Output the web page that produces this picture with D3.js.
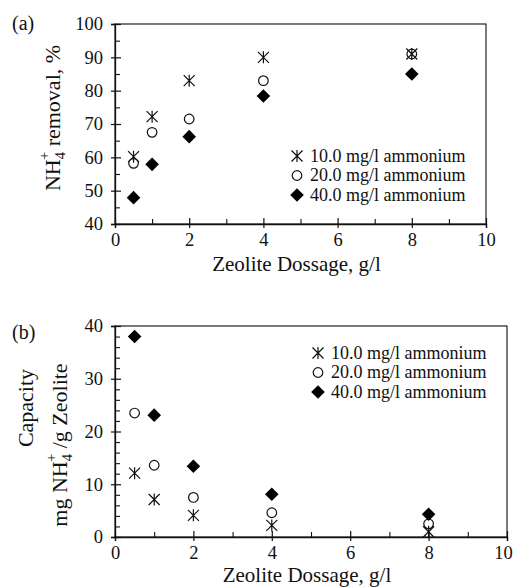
<!DOCTYPE html>
<html><head><meta charset="utf-8">
<script src="https://cdn.jsdelivr.net/npm/d3@7"></script>
<style>
body{margin:0;background:#fff;}
svg{display:block;}
</style></head>
<body>
<svg id="c" width="515" height="587"></svg>
<script>
const dosage = [0.5, 1, 2, 4, 8];
const removal10 = [60.2, 72.2, 83, 90, 91];
const removal20 = [58.2, 67.5, 71.5, 83, 91];
const removal40 = [47.9, 57.9, 66.2, 78.4, 85];
const capacity10 = [12.1, 7.1, 4.1, 2.2, 1.0];
const capacity20 = [23.5, 13.6, 7.5, 4.6, 2.5];
const capacity40 = [38, 23.1, 13.4, 8.1, 4.3];
const seriesNames = ["10.0 mg/l ammonium", "20.0 mg/l ammonium", "40.0 mg/l ammonium"];
const xTicks = [0, 2, 4, 6, 8, 10];
const xMinor = [1, 3, 5, 7, 9];
const yTicksA = [40, 50, 60, 70, 80, 90, 100];
const yMinorA = [45, 55, 65, 75, 85, 95];
const yTicksB = [0, 10, 20, 30, 40];
const yMinorB = [2,4,6,8,12,14,16,18,22,24,26,28,32,34,36,38];

const FONT = "'Liberation Serif', 'Times New Roman', serif";
const svg = d3.select("#c");
const FS = 18.5;

function marker(g, type, cx, cy) {
  if (type === 0) {
    const s = 5.5;
    const p = `M${cx-s},${cy-s}L${cx+s},${cy+s}M${cx-s},${cy+s}L${cx+s},${cy-s}M${cx},${cy-s-0.5}L${cx},${cy+s+0.5}`;
    g.append("path").attr("d", p).attr("stroke", "#111").attr("stroke-width", 1.2).attr("fill", "none");
  } else if (type === 1) {
    g.append("circle").attr("cx", cx).attr("cy", cy).attr("r", 4.8)
      .attr("fill", "none").attr("stroke", "#111").attr("stroke-width", 1.2);
  } else {
    const s = 6.8;
    g.append("path").attr("d", `M${cx},${cy-s}L${cx+s},${cy}L${cx},${cy+s}L${cx-s},${cy}Z`).attr("fill", "#000");
  }
}

function panel(cfg) {
  const g = svg.append("g");
  const x = d3.scaleLinear().domain([0, 10]).range([cfg.x0, cfg.x1]);
  const y = d3.scaleLinear().domain(cfg.ydom).range([cfg.y0, cfg.y1]);
  g.append("rect").attr("x", cfg.x0).attr("y", cfg.y1).attr("width", cfg.x1 - cfg.x0).attr("height", cfg.y0 - cfg.y1)
    .attr("fill", "none").attr("stroke", "#333").attr("stroke-width", 1.3);
  const xa = g.append("g").attr("transform", `translate(0,${cfg.y0})`)
    .call(d3.axisBottom(x).tickValues(xTicks).tickSize(4).tickPadding(5).tickFormat(d3.format("d")));
  xa.select(".domain").attr("stroke", "#111").attr("stroke-width", 1.3);
  xa.selectAll(".tick line").attr("y1", -6).attr("y2", 4).attr("stroke", "#111").attr("stroke-width", 1.2);
  xa.selectAll(".tick text").attr("font-size", FS).attr("fill", "#111")
    .attr("dx", d => (d === 10 && cfg.x1 > 500) ? -4 : 0);
  const xm = g.append("g").attr("transform", `translate(0,${cfg.y0})`)
    .call(d3.axisBottom(x).tickValues(xMinor).tickSize(0).tickFormat(""));
  xm.select(".domain").remove();
  xm.selectAll(".tick line").attr("y1", -5).attr("y2", 0).attr("stroke", "#111").attr("stroke-width", 1.1);
  const ya = g.append("g").attr("transform", `translate(${cfg.x0},0)`)
    .call(d3.axisLeft(y).tickValues(cfg.yTicks).tickSize(4).tickPadding(8).tickFormat(d3.format("d")));
  ya.select(".domain").attr("stroke", "#111").attr("stroke-width", 1.3);
  ya.selectAll(".tick line").attr("x1", 6).attr("x2", -4).attr("stroke", "#111").attr("stroke-width", 1.2);
  ya.selectAll(".tick text").attr("font-size", FS).attr("fill", "#111");
  const ym = g.append("g").attr("transform", `translate(${cfg.x0},0)`)
    .call(d3.axisLeft(y).tickValues(cfg.yMinor).tickSize(0).tickFormat(""));
  ym.select(".domain").remove();
  ym.selectAll(".tick line").attr("x1", 5).attr("x2", 0).attr("stroke", "#111").attr("stroke-width", 1.1);
  cfg.series.forEach((vals, si) => {
    const sg = g.append("g");
    vals.forEach((v, i) => marker(sg, si, x(dosage[i]), y(v)));
  });
  seriesNames.forEach((name, i) => {
    const ly = cfg.legY + i * 19.5;
    marker(g, i, cfg.legX, ly);
    g.append("text").attr("x", cfg.legX + 13).attr("y", ly + 5.5).attr("font-size", 18).attr("fill", "#111").text(name);
  });
  g.append("text").attr("x", (cfg.x0 + cfg.x1) / 2 - 4).attr("y", cfg.xTitleY).attr("text-anchor", "middle")
    .attr("font-size", 21).attr("fill", "#111").text("Zeolite Dossage, g/l");
  g.append("text").attr("x", 12).attr("y", cfg.labY).attr("font-size", 20).attr("fill", "#111").text(cfg.label);
  return g;
}

function nh4(t, fs) {
  t.append("tspan").text("NH");
  t.append("tspan").attr("font-size", fs * 0.66).attr("dy", 5).text("4");
  t.append("tspan").attr("font-size", fs * 0.66).attr("dx", -8).attr("dy", -16).text("+");
  t.append("tspan").attr("dy", 11).text("\u00a0");
}

const gA = panel({x0: 115, x1: 486, y0: 224, y1: 24, ydom: [40, 100], yTicks: yTicksA, yMinor: yMinorA,
  series: [removal10, removal20, removal40], legX: 297, legY: 156, xTitleY: 271, labY: 30, label: "(a)"});
const tA = gA.append("text").attr("transform", "translate(60,118) rotate(-90)").attr("text-anchor", "middle").attr("font-size", 22).attr("fill", "#111");
nh4(tA, 22);
tA.append("tspan").text("removal, %");

const gB = panel({x0: 115, x1: 507, y0: 537, y1: 326, ydom: [0, 40], yTicks: yTicksB, yMinor: yMinorB,
  series: [capacity10, capacity20, capacity40], legX: 318, legY: 353, xTitleY: 582, labY: 339, label: "(b)"});
gB.append("text").attr("transform", "translate(33,408) rotate(-90)").attr("text-anchor", "middle").attr("font-size", 22).attr("fill", "#111").text("Capacity");
const tB = gB.append("text").attr("transform", "translate(67,445) rotate(-90)").attr("text-anchor", "middle").attr("font-size", 22).attr("fill", "#111");
tB.append("tspan").text("mg\u00a0");
nh4(tB, 22);
tB.append("tspan").text("/g Zeolite");

svg.selectAll("text, g").style("font-family", FONT);
</script>
</body></html>
